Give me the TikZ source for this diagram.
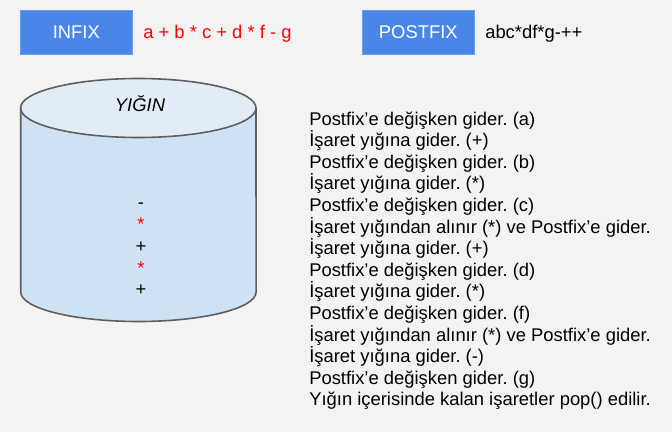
\documentclass[tikz,border=0pt]{standalone}
\usepackage{fontspec}
\setmainfont{Liberation Sans}
\definecolor{pagegray}{HTML}{F3F3F3}
\definecolor{boxblue}{HTML}{4A86E8}
\definecolor{boxedge}{HTML}{6D9EEB}
\definecolor{stackbody}{HTML}{CFE2F3}
\definecolor{stacktop}{HTML}{E2ECF7}
\definecolor{stackedge}{HTML}{5F5F5F}
\definecolor{opred}{HTML}{FF0000}
\usepackage{tikz}
\frenchspacing

\tikzset{
  titlebox/.style={fill=boxblue,draw=boxedge,text=white,minimum width=83.5pt,minimum height=33pt,inner sep=0pt,font=\fontsize{13.8}{16}\selectfont},
  plaintext/.style={anchor=base west,inner sep=0pt,font=\fontsize{13.8}{16}\selectfont},
  stackitem/.style={anchor=base,inner sep=0pt,font=\fontsize{13.8}{16}\selectfont},
}

\begin{document}
\begin{tikzpicture}[x=0.75pt,y=-0.75pt]
  \fill[pagegray] (0,0) rectangle (672,432);
  \useasboundingbox (0,0) rectangle (672,432);

  % Infix / postfix headings
  \node[titlebox] (infix) at (76.3,32) {INFIX};
  \node[plaintext,opred] (infixexpr) at (143,38.3) {a + b * c + d * f - g};
  \node[titlebox] (postfix) at (418.3,32) {POSTFIX};
  \node[plaintext] (postfixexpr) at (485,38.3) {abc*df*g-++};

  % Stack (cylinder)
  \fill[stackbody] (20.7,108) rectangle (256,292);
  \fill[stackbody] (138.3,292) ellipse [x radius=117.7,y radius=29.5];
  \fill[stacktop] (138.3,108) ellipse [x radius=117.7,y radius=29.5];
  \draw[stackedge,line width=1.2pt] (20.7,108) -- (20.7,292)
    arc [start angle=180,end angle=0,x radius=117.7,y radius=29.5] -- (256,108);
  \draw[stackedge,line width=1.2pt] (138.3,108) ellipse [x radius=117.7,y radius=29.5];
  \node[stackitem,font=\fontsize{13.8}{16}\selectfont\itshape] (yigin) at (140,111.5) {YIĞIN};

  % Operators left in the stack
  \node[stackitem] (s1) at (141,208.5) {-};
  \node[stackitem,opred] (s2) at (141,230.5) {*};
  \node[stackitem] (s3) at (141,252) {+};
  \node[stackitem,opred] (s4) at (141,274) {*};
  \node[stackitem] (s5) at (141,295.5) {+};

  % Steps
  \foreach \txt [count=\i] in {
      Postfix’e değişken gider. (a),
      İşaret yığına gider. (+),
      Postfix’e değişken gider. (b),
      İşaret yığına gider. (*),
      Postfix’e değişken gider. (c),
      İşaret yığından alınır (*) ve Postfix’e gider.,
      İşaret yığına gider. (+),
      Postfix’e değişken gider. (d),
      İşaret yığına gider. (*),
      Postfix’e değişken gider. (f),
      İşaret yığından alınır (*) ve Postfix’e gider.,
      İşaret yığına gider. (-),
      Postfix’e değişken gider. (g),
      Yığın içerisinde kalan işaretler pop() edilir.}
    \node[plaintext] (l\i) at (309,{125+21.6*(\i-1)}) {\txt};
\end{tikzpicture}
\end{document}
